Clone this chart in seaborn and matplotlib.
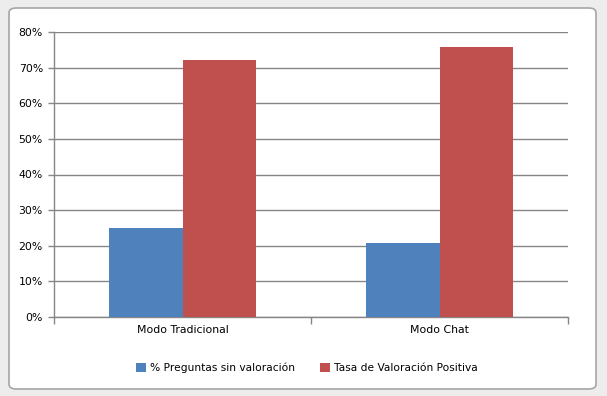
import pandas as pd
import matplotlib.pyplot as plt
import seaborn as sns
from matplotlib.patches import FancyBboxPatch
from matplotlib.ticker import FixedLocator, PercentFormatter

# datos
modos = ["Modo Tradicional", "Modo Chat"]
series = ["% Preguntas sin valoración", "Tasa de Valoración Positiva"]
sin_valoracion = [25.0, 20.8]
valoracion_positiva = [72.1, 75.8]

colores = ["#4F81BD", "#C0504D"]
GRIS = "#868686"

df = pd.DataFrame({
    "Modo": modos * 2,
    "Serie": [series[0]] * 2 + [series[1]] * 2,
    "Valor": sin_valoracion + valoracion_positiva,
})

sns.set_theme(style="white")
plt.rcParams["font.family"] = ["DejaVu Sans"]

W, H = 607, 396
fig = plt.figure(figsize=(W / 100, H / 100), dpi=100)
fig.patch.set_facecolor("#EDEDED")

# marco del área de gráfico (estilo Excel)
marco = FancyBboxPatch((9 / W, 7 / H), (596 - 9) / W, (388 - 7) / H,
                       boxstyle="round,pad=0,rounding_size=0.012",
                       transform=fig.transFigure, facecolor="white",
                       edgecolor="#A6A6A6", linewidth=1.2, zorder=-5)
fig.patches.append(marco)

ax = fig.add_axes([54 / W, (H - 317) / H, 514 / W, 285 / H])
ax.set_zorder(2)
ax.set_facecolor("none")

sns.barplot(data=df, x="Modo", y="Valor", hue="Serie", palette=colores,
            width=2 / 3.5, saturation=1, linewidth=0, ax=ax, zorder=3)

ax.set_ylim(0, 80)
ax.set_xlim(-0.5, 1.5)
ax.set_yticks(range(0, 81, 10))
ax.yaxis.set_major_formatter(PercentFormatter(decimals=0))
ax.yaxis.grid(True, color=GRIS, linewidth=1)
ax.set_axisbelow(True)

# ticks del eje x en los límites de categoría
ax.xaxis.set_major_locator(FixedLocator([-0.5, 0.5, 1.5]))
ax.xaxis.set_minor_locator(FixedLocator([0, 1]))
ax.set_xticklabels([], minor=False)
ax.set_xticklabels(modos, minor=True)
ax.tick_params(axis="x", which="major", direction="out", length=5,
               color=GRIS, width=1, bottom=True)
ax.tick_params(axis="x", which="minor", length=0, pad=6,
               labelsize=7.8, labelcolor="black")
ax.tick_params(axis="y", direction="out", length=4, color=GRIS, width=1,
               left=True, labelsize=7.8, labelcolor="black", pad=4)

for lado in ["top", "right"]:
    ax.spines[lado].set_visible(False)
for lado in ["left", "bottom"]:
    ax.spines[lado].set_color(GRIS)
    ax.spines[lado].set_linewidth(1)

ax.set_xlabel("")
ax.set_ylabel("")

handles, labels = ax.get_legend_handles_labels()
ax.get_legend().remove()
leg = fig.legend(handles, labels, loc="center",
                 bbox_to_anchor=(307 / W, 1 - 368 / H),
                 ncol=2, frameon=False, fontsize=7.7, handlelength=0.9,
                 handleheight=0.9, handletextpad=0.4, columnspacing=2.4)
for t in leg.get_texts():
    t.set_color("black")

fig.savefig("out.png", dpi=100, facecolor=fig.get_facecolor())
